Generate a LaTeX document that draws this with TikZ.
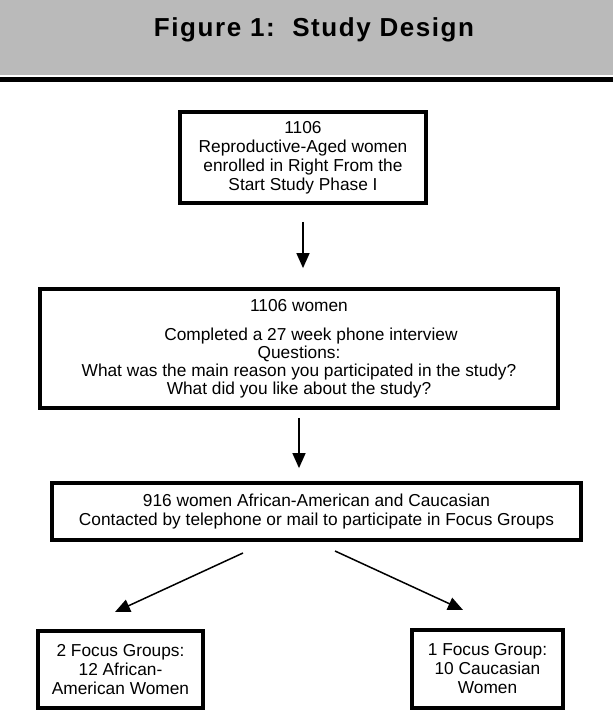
\documentclass[tikz,border=0pt]{standalone}
\usepackage{fontspec}
\setmainfont{Liberation Sans}
\usetikzlibrary{arrows.meta}

\begin{document}
\begin{tikzpicture}[x=1pt, y=-1pt,
  stagebox/.style={draw, line width=3.8pt, align=center, inner sep=0pt,
    font=\fontsize{17.3}{19}\selectfont},
  flowarrow/.style={line width=1.5pt, -{Triangle[length=15pt, width=13pt]}}]
  \useasboundingbox (0,0) rectangle (613,711);

  % Title band
  \fill[black!27] (0,0) rectangle (613,75);
  \fill (0,77.5) rectangle (613,82);
  \node[font=\bfseries\fontsize{26}{26}\selectfont\addfontfeature{LetterSpace=6}] (title) at (314,30)
    {Figure 1:\ \ Study Design};

  % Flow boxes
  \node[stagebox, minimum width=246pt, minimum height=91pt] (enrol) at (303,157.5)
    {1106\\Reproductive-Aged women\\enrolled in Right From the\\Start Study Phase I};
  \node[stagebox, minimum width=518pt, minimum height=119pt, font=\fontsize{17.3}{18}\selectfont] (quest) at (299,348.5)
    {1106 women\\[11pt]\hspace*{24pt}Completed a 27 week phone interview\\Questions:\\
     What was the main reason you participated in the study?\\What did you like about the study?};
  \node[stagebox, minimum width=529pt, minimum height=57pt] (contact) at (316.5,511.5)
    {916 women African-American and Caucasian\\Contacted by telephone or mail to participate in Focus Groups};
  \node[stagebox, minimum width=165pt, minimum height=77pt] (afgroup) at (120.5,669.5)
    {2 Focus Groups:\\12 African-\\American Women};
  \node[stagebox, minimum width=151pt, minimum height=78pt] (cagroup) at (487.5,669)
    {1 Focus Group:\\10 Caucasian\\Women};

  % Arrows down
  \draw[flowarrow, shorten <=17pt, shorten >=19pt] (enrol.south) -- (enrol.south |- quest.north);
  \draw[flowarrow, shorten <=8pt, shorten >=13pt] (quest.south) -- (quest.south |- contact.north);

  % Split into the two focus groups
  \coordinate (leftfrom) at (243,553);
  \coordinate (leftto) at (115,612);
  \coordinate (rightfrom) at (335,551);
  \coordinate (rightto) at (463,610);
  \draw[flowarrow] (leftfrom) -- (leftto);
  \draw[flowarrow] (rightfrom) -- (rightto);
\end{tikzpicture}
\end{document}
